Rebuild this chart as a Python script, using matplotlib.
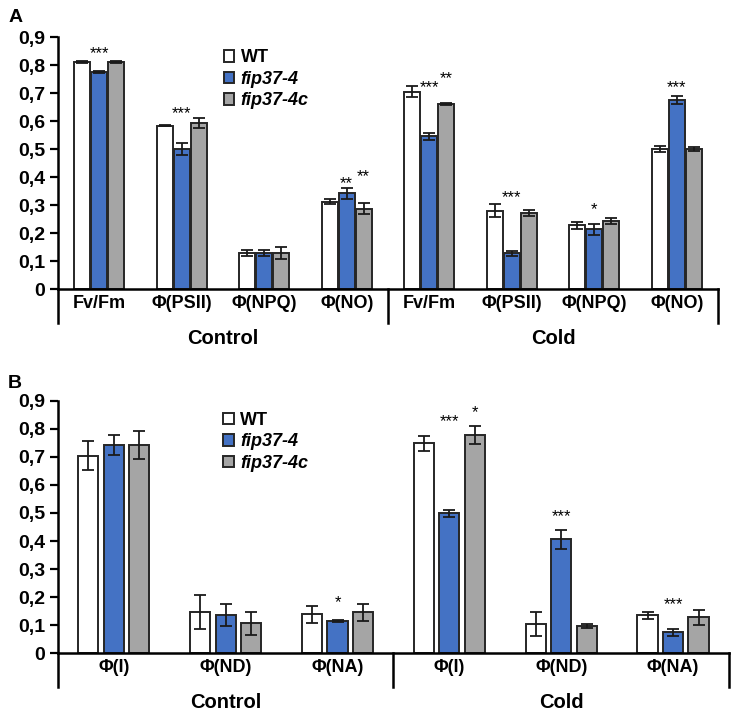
import matplotlib
matplotlib.use("Agg")
import matplotlib.pyplot as plt
import matplotlib.transforms as mtransforms
import numpy as np

plt.rcParams['font.family'] = ['Liberation Sans', 'DejaVu Sans']

series_names = ["WT", "fip37-4", "fip37-4c"]
series_colors = ["#FFFFFF", "#4472C4", "#A5A5A5"]
group_names = ["Control", "Cold"]

# panel A: chlorophyll fluorescence parameters
cats_a = ["Fv/Fm", "Φ(PSII)", "Φ(NPQ)", "Φ(NO)"] * 2
wt_a = [0.812, 0.584, 0.129, 0.312, 0.705, 0.280, 0.227, 0.500]
fip_a = [0.774, 0.500, 0.129, 0.342, 0.545, 0.127, 0.213, 0.676]
fipc_a = [0.812, 0.593, 0.129, 0.287, 0.660, 0.272, 0.244, 0.500]
wt_a_err = [0.003, 0.002, 0.012, 0.010, 0.019, 0.022, 0.012, 0.011]
fip_a_err = [0.003, 0.020, 0.011, 0.020, 0.012, 0.010, 0.019, 0.015]
fipc_a_err = [0.003, 0.019, 0.020, 0.020, 0.003, 0.010, 0.011, 0.007]
# significance marks: (category index, series index, text, height)
stars_a = [(0, 1, "***", 0.842), (1, 1, "***", 0.625), (3, 1, "**", 0.377),
           (3, 2, "**", 0.401), (4, 1, "***", 0.720), (4, 2, "**", 0.752),
           (5, 1, "***", 0.326), (6, 1, "*", 0.285), (7, 1, "***", 0.718)]

# panel B: P700 parameters
cats_b = ["Φ(I)", "Φ(ND)", "Φ(NA)"] * 2
wt_b = [0.704, 0.146, 0.139, 0.748, 0.105, 0.135]
fip_b = [0.741, 0.137, 0.116, 0.499, 0.407, 0.075]
fipc_b = [0.741, 0.107, 0.146, 0.778, 0.097, 0.128]
wt_b_err = [0.052, 0.060, 0.031, 0.026, 0.042, 0.013]
fip_b_err = [0.036, 0.038, 0.003, 0.012, 0.034, 0.012]
fipc_b_err = [0.050, 0.040, 0.031, 0.032, 0.007, 0.027]
stars_b = [(2, 1, "*", 0.179), (3, 1, "***", 0.824), (3, 2, "*", 0.858),
           (4, 1, "***", 0.486), (5, 1, "***", 0.172)]

yticks = [0, 0.1, 0.2, 0.3, 0.4, 0.5, 0.6, 0.7, 0.8, 0.9]
ytick_labels = ["0", "0,1", "0,2", "0,3", "0,4", "0,5", "0,6", "0,7", "0,8", "0,9"]

fig = plt.figure(figsize=(7.33, 7.14), dpi=100)
ax_a = fig.add_axes([0.0791, 0.5952, 0.9004, 0.3529])
ax_b = fig.add_axes([0.0791, 0.0850, 0.9154, 0.3538])


def draw_panel(ax, cats, values, errors, stars, offset, width, legend_pos):
    x = np.arange(len(cats))
    handles = []
    for i, (vals, errs) in enumerate(zip(values, errors)):
        pos = x + (i - 1) * offset
        b = ax.bar(pos, vals, width, color=series_colors[i], edgecolor="#262626",
                   linewidth=1.4, zorder=2, label=series_names[i])
        ax.errorbar(pos, vals, yerr=errs, fmt="none", ecolor="#1a1a1a",
                    elinewidth=1.3, capsize=4, capthick=1.3, zorder=3)
        handles.append(b)
    for ci, si, txt, h in stars:
        ax.text(ci + (si - 1) * offset, h, txt, ha="center", va="center", fontsize=12)

    n = len(cats)
    ax.set_xlim(-0.5, n - 0.5)
    ax.set_ylim(0, 0.9)
    ax.set_yticks(yticks)
    ax.set_yticklabels(ytick_labels, fontsize=14, fontweight="bold")
    ax.tick_params(axis="y", direction="out", length=6, width=1.6, pad=3)
    ax.set_xticks(x)
    ax.set_xticklabels(cats, fontsize=13, fontweight="bold")
    ax.tick_params(axis="x", length=0, pad=4)
    for s in ["top", "right"]:
        ax.spines[s].set_visible(False)
    ax.spines["left"].set_linewidth(1.8)
    ax.spines["bottom"].set_linewidth(1.8)

    # group brackets below the axis
    trans = mtransforms.blended_transform_factory(ax.transData, ax.transAxes)
    drop = -0.135
    for xv in [-0.5, n / 2 - 0.5, n - 0.5]:
        ax.plot([xv, xv], [0, drop], transform=trans, color="black", lw=1.8,
                clip_on=False)
    ax.text((n / 2 - 1) / 2, -0.195, group_names[0], transform=trans, ha="center",
            va="center", fontsize=14.5, fontweight="bold")
    ax.text((n / 2 - 0.5 + n - 0.5) / 2, -0.195, group_names[1], transform=trans,
            ha="center", va="center", fontsize=14.5, fontweight="bold")

    leg = ax.legend(handles=handles, loc="upper left", bbox_to_anchor=legend_pos,
                    frameon=False, fontsize=13, handlelength=0.6, handleheight=0.6,
                    handletextpad=0.35, labelspacing=0.25, borderaxespad=0)
    for i, t in enumerate(leg.get_texts()):
        t.set_fontweight("bold")
        if i > 0:
            t.set_fontstyle("italic")


draw_panel(ax_a, cats_a, [wt_a, fip_a, fipc_a], [wt_a_err, fip_a_err, fipc_a_err],
           stars_a, 0.206, 0.19, (0.24, 0.98))
draw_panel(ax_b, cats_b, [wt_b, fip_b, fipc_b], [wt_b_err, fip_b_err, fipc_b_err],
           stars_b, 0.228, 0.18, (0.235, 0.985))

fig.text(0.011, 0.975, "A", fontsize=14, fontweight="bold", va="center")
fig.text(0.011, 0.463, "B", fontsize=14, fontweight="bold", va="center")

fig.savefig("out.png", dpi=100)
